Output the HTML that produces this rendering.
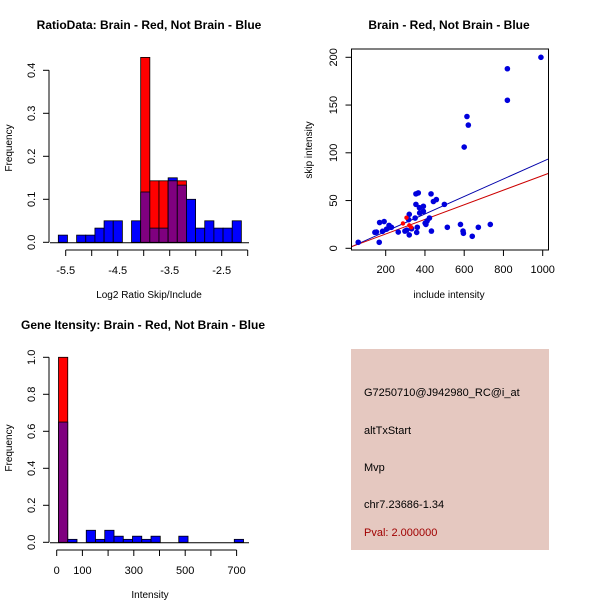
<!DOCTYPE html>
<html><head><meta charset="utf-8"><style>
body{margin:0;background:#fff}
svg{display:block;font-family:"Liberation Sans",Arial,sans-serif}
</style></head><body>
<svg id="c" width="600" height="600" viewBox="0 0 600 600">
<rect width="600" height="600" fill="#fff"/>
<g id="p1"></g>
<g id="p2"></g>
<g id="p3"></g>
<g>
<rect x="351" y="349" width="198" height="201" fill="#e5c8c0"/>
<text x="364" y="396" font-size="11">G7250710@J942980_RC@i_at</text>
<text x="364" y="434" font-size="11">altTxStart</text>
<text x="364" y="471" font-size="11">Mvp</text>
<text x="364" y="508" font-size="11">chr7.23686-1.34</text>
<text x="364" y="536" font-size="11" fill="#a00000">Pval: 2.000000</text>
</g>
</svg>
<script>
// ---- Panel 1 data ----
const ratioBinStart = -5.642, ratioBinWidth = 0.176;
const ratioBlue = [0.0167,0,0.0167,0.0167,0.033,0.05,0.05,0,0.05,0.117,0.033,0.033,0.15,0.133,0.1,0.033,0.05,0.033,0.033,0.05];
const ratioRed  = [0,0,0,0,0,0,0,0,0,0.43,0.143,0.143,0.143,0.143,0,0,0,0,0,0];
const ratioXTicks = [-5.5,-5,-4.5,-4,-3.5,-3,-2.5,-2];
const ratioXLabels = ["-5.5","","-4.5","","-3.5","","-2.5",""];
const ratioYTicks = [0,0.1,0.2,0.3,0.4];
const ratioYLabels = ["0.0","0.1","0.2","0.3","0.4"];
// ---- Panel 2 data ----
const blueX = [60,991,820,820,614,621,600,366,354,431,458,443,499,354,392,372,392,373,320,350,317,423,411,401,405,169,192,217,229,204,184,145,153,264,298,307,332,361,358,320,433,514,581,594,596,641,672,733,167];
const blueY = [6.3,200,188,155,138,129,106,58,57,57,51,49,46,46,44,42.5,38.7,37,35.6,31.7,30,31.7,28.6,26.3,25,27,28,24,22,20,17.8,16.7,17,17,18,19,20.5,22,16.6,14,18,22,25,18,15.7,12.6,22,25,6.3];
const redX = [288,320,306,330];
const redY = [26,24,32,22];
const blueFit = [-0.7,0.0916];
const redFit = [-0.3,0.0765];
const scXTicks = [200,400,600,800,1000];
const scYTicks = [0,50,100,150,200];
// ---- Panel 3 data ----
const intBinStart = 7, intBinWidth = 36;
const intBlue = [0.65,0.016,0,0.065,0.016,0.065,0.033,0.016,0.033,0.016,0.033,0,0,0.033,0,0,0,0,0,0.016];
const intRed  = [1.0,0,0,0,0,0,0,0,0,0,0,0,0,0,0,0,0,0,0,0];
const intXTicks = [0,100,200,300,400,500,600,700];
const intXLabels = ["0","100","","300","","500","","700"];
const intYTicks = [0,0.2,0.4,0.6,0.8,1.0];
const intYLabels = ["0.0","0.2","0.4","0.6","0.8","1.0"];

const NS="http://www.w3.org/2000/svg";
function mk(parent,tag,attrs,text){const e=document.createElementNS(NS,tag);for(const k in attrs)e.setAttribute(k,attrs[k]);if(text!==undefined)e.textContent=text;parent.appendChild(e);return e;}

function hist(g,o){
  const sx=v=>o.x0+(v-o.d0)*o.kx, sy=v=>o.y0-v*o.ky;
  for(let i=0;i<o.blue.length;i++){
    const a=o.start+i*o.w,b=a+o.w,bv=o.blue[i],rv=o.red[i];
    const lo=Math.min(bv,rv),hi=Math.max(bv,rv);
    if(hi>0){
      const r=mk(g,'rect',{x:sx(a),y:sy(hi),width:sx(b)-sx(a),height:sy(0)-sy(hi),fill:rv>bv?'#ff0000':'#0000ff',stroke:'#000','stroke-width':0.8});
      
      
    }
    if(lo>0){
      const r=mk(g,'rect',{x:sx(a),y:sy(lo),width:sx(b)-sx(a),height:sy(0)-sy(lo),fill:'#7f007f',stroke:'#000','stroke-width':0.8});
      
      
    }
  }
  mk(g,'line',{x1:o.base[0],x2:o.base[1],y1:sy(0)+0.5,y2:sy(0)+0.5,stroke:'#000'});
  const xa=mk(g,'g',{});
  
  
  const ay=o.xAxisY;
  mk(xa,'line',{x1:sx(o.xt[0]),x2:sx(o.xt[o.xt.length-1]),y1:ay,y2:ay,stroke:'#000'});
  o.xt.forEach((t,i)=>{mk(xa,'line',{x1:sx(t),x2:sx(t),y1:ay,y2:ay+6,stroke:'#000'});if(o.xl[i])mk(xa,'text',{x:sx(t),y:ay+24,'font-size':11,'text-anchor':'middle'},o.xl[i]);});
  const ya=mk(g,'g',{});
  
  
  const ax=o.yAxisX;
  mk(ya,'line',{x1:ax,x2:ax,y1:sy(o.yt[0]),y2:sy(o.yt[o.yt.length-1]),stroke:'#000'});
  o.yt.forEach((t,i)=>{mk(ya,'line',{x1:ax,x2:ax-6,y1:sy(t),y2:sy(t),stroke:'#000'});mk(ya,'text',{x:ax-14,y:sy(t),'font-size':11,'text-anchor':'middle',transform:`rotate(-90 ${ax-14} ${sy(t)})`},o.yl[i]);});
}

hist(document.getElementById('p1'),{x0:65.7,d0:-5.5,kx:52,y0:242.3,ky:430,start:ratioBinStart,w:ratioBinWidth,blue:ratioBlue,red:ratioRed,xt:ratioXTicks,xl:ratioXLabels,yt:ratioYTicks,yl:ratioYLabels,xAxisY:250,yAxisX:49,base:[50,249]});
hist(document.getElementById('p3'),{x0:56.7,d0:0,kx:0.257,y0:542.3,ky:185,start:intBinStart,w:intBinWidth,blue:intBlue,red:intRed,xt:intXTicks,xl:intXLabels,yt:intYTicks,yl:intYLabels,xAxisY:550,yAxisX:49,base:[50,249]});

(function(){
  const g=document.getElementById('p2');
  const sx=v=>385.7+(v-200)*0.19625, sy=v=>248.3-v*0.955;
  mk(g,'rect',{x:351.5,y:49,width:197,height:201,fill:'none',stroke:'#000'});
  const xa=mk(g,'g',{});
  
  
  scXTicks.forEach(t=>{mk(xa,'line',{x1:sx(t),x2:sx(t),y1:250,y2:256,stroke:'#000'});mk(xa,'text',{x:sx(t),y:273,'font-size':11,'text-anchor':'middle'},String(t));});
  const ya=mk(g,'g',{});
  
  
  scYTicks.forEach(t=>{mk(ya,'line',{x1:351.5,x2:345.5,y1:sy(t),y2:sy(t),stroke:'#000'});mk(ya,'text',{x:337,y:sy(t),'font-size':11,'text-anchor':'middle',transform:`rotate(-90 337 ${sy(t)})`},String(t));});
  const cl=mk(g,'clipPath',{id:'clp'});mk(cl,'rect',{x:352,y:49,width:196,height:201});
  const pts=mk(g,'g',{'clip-path':'url(#clp)'});
  [[blueFit,'#0000aa'],[redFit,'#cc0000']].forEach(([f,c],k)=>{
    const l=mk(pts,'line',{x1:sx(0),y1:sy(f[0]),x2:sx(1100),y2:sy(f[0]+f[1]*1100),stroke:c,'stroke-width':1});
    
    
  });
  blueX.forEach((x,i)=>{const c=mk(pts,'circle',{cx:sx(x),cy:sy(blueY[i]),r:2.8,fill:'#0000dd'});
    
    });
  redX.forEach((x,i)=>{const c=mk(pts,'circle',{cx:sx(x),cy:sy(redY[i]),r:2.2,fill:'#ff0000'});
    
    });
})();

const svg=document.getElementById('c');
function T(x,y,s,txt,name,extra){const t=mk(svg,'text',Object.assign({x:x,y:y,'font-size':s,'text-anchor':'middle'},extra||{}),txt);
  
  }
T(149,29,12,'RatioData: Brain - Red, Not Brain - Blue','ratio-title',{'font-weight':'bold'});
T(449,29,12,'Brain - Red, Not Brain - Blue','scatter-title',{'font-weight':'bold'});
T(143,329,12,'Gene Itensity: Brain - Red, Not Brain - Blue','intensity-title',{'font-weight':'bold'});
T(149,298,10,'Log2 Ratio Skip/Include','ratio-x-title');
T(449,298,10,'include intensity','scatter-x-title');
T(150,598,10,'Intensity','intensity-x-title');
T(12,148,10,'Frequency','ratio-y-title',{transform:'rotate(-90 12 148)'});
T(312,150,10,'skip intensity','scatter-y-title',{transform:'rotate(-90 312 150)'});
T(12,448,10,'Frequency','intensity-y-title',{transform:'rotate(-90 12 448)'});
</script>
</body></html>
